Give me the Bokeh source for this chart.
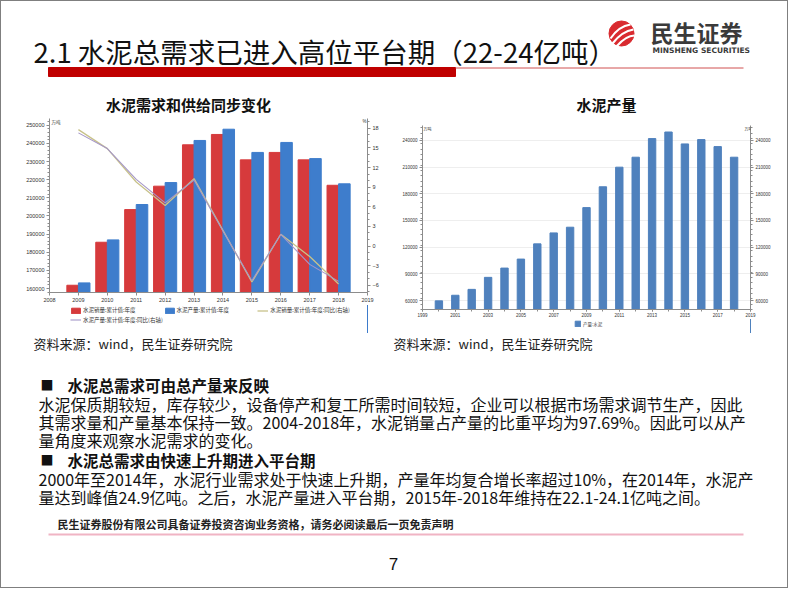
from bokeh.plotting import figure
from bokeh.models import (Range1d, LinearAxis, Legend, LegendItem, Label, FixedTicker,
                          ColumnDataSource)
from bokeh.layouts import column, row
from bokeh.embed import file_html
from bokeh.resources import INLINE
from bokeh.core.properties import value
from bokeh.transform import dodge

CJK = "Noto Sans CJK SC"
LAT = "Liberation Sans"

# ---------------- data: left chart (水泥需求和供给同步变化) ----------------
years_a = [2009, 2010, 2011, 2012, 2013, 2014, 2015, 2016, 2017, 2018]
sales = [161800, 185500, 203500, 216400, 239200, 244900, 230900, 235000, 230900, 216900]
production = [163100, 186800, 206300, 218400, 241600, 247800, 235000, 240500, 231600, 217700]
sales_yoy = [17.8, 14.9, 9.8, 6.2, 10.3, 2.4, -5.5, 1.8, -1.6, -5.8]
production_yoy = [17.3, 14.9, 10.2, 6.6, 10.1, 2.3, -5.3, 1.8, -2.8, -5.4]
left_x_ticks = [2008, 2009, 2010, 2011, 2012, 2013, 2014, 2015, 2016, 2017, 2018, 2019]
left_y_ticks = [160000, 170000, 180000, 190000, 200000, 210000, 220000, 230000, 240000, 250000]
left_pct_ticks = [-6, -3, 0, 3, 6, 9, 12, 15, 18]
left_title = "水泥需求和供给同步变化"
legend_a = ["水泥销量:累计值:年度", "水泥产量:累计值:年度",
            "水泥销量:累计值:年度:同比(右轴)", "水泥产量:累计值:年度:同比(右轴)"]

# ---------------- data: right chart (水泥产量) ----------------
years_b = [2000, 2001, 2002, 2003, 2004, 2005, 2006, 2007, 2008, 2009,
           2010, 2011, 2012, 2013, 2014, 2015, 2016, 2017, 2018]
output = [59700, 66000, 72600, 86100, 96500, 106600, 123700, 136000, 142400, 164400,
          187800, 209800, 221000, 241900, 249300, 235900, 240800, 232900, 221000]
right_x_ticks = [1999, 2001, 2003, 2005, 2007, 2009, 2011, 2013, 2015, 2017, 2019]
right_y_ticks = [60000, 90000, 120000, 150000, 180000, 210000, 240000]
right_title = "水泥产量"
legend_b = "产量:水泥"

# ---------------- slide texts ----------------
slide_title = "2.1 水泥总需求已进入高位平台期（22-24亿吨）"
source_text = "资料来源：wind，民生证券研究院"
bullet1 = "水泥总需求可由总产量来反映"
body1 = ["水泥保质期较短，库存较少，设备停产和复工所需时间较短，企业可以根据市场需求调节生产，因此",
         "其需求量和产量基本保持一致。2004-2018年，水泥销量占产量的比重平均为97.69%。因此可以从产",
         "量角度来观察水泥需求的变化。"]
bullet2 = "水泥总需求由快速上升期进入平台期"
body2 = ["2000年至2014年，水泥行业需求处于快速上升期，产量年均复合增长率超过10%，在2014年，水泥产",
         "量达到峰值24.9亿吨。之后，水泥产量进入平台期，2015年-2018年维持在22.1-24.1亿吨之间。"]
footer = "民生证券股份有限公司具备证券投资咨询业务资格，请务必阅读最后一页免责声明"

RED = "#d63a3c"
BLUE = "#3e7dcc"
BLUE2 = "#4f81bd"
OLIVE = "#c8c28a"
PURPLE = "#a597c8"


def canvas(w, h, x_left, x_right, y_top, y_bot):
    p = figure(width=w, height=h, x_range=Range1d(x_left, x_right),
               y_range=Range1d(y_bot, y_top),
               output_backend="svg", toolbar_location=None, title=None,
               x_axis_type=None, y_axis_type=None, min_border=0)
    p.grid.visible = False
    p.outline_line_color = None
    return p


def txt(p, x, y, s, size, bold=False, color="#111111", align="left", font=CJK):
    p.add_layout(Label(x=x, y=y, text=s, text_font=font, text_font_size=size,
                       text_font_style="bold" if bold else "normal", text_color=color,
                       text_align=align, text_baseline="middle"))


def style_axis(ax, size="5.5px", tick_out=3, standoff=2):
    ax.axis_line_color = "#8c8c8c"
    ax.major_tick_line_color = "#8c8c8c"
    ax.minor_tick_line_color = "#8c8c8c"
    ax.major_tick_in = 0
    ax.major_tick_out = tick_out
    ax.minor_tick_in = 0
    ax.minor_tick_out = 2
    ax.major_label_text_font = LAT
    ax.major_label_text_font_size = size
    ax.major_label_text_color = "#333333"
    ax.major_label_standoff = standoff


leg_style = dict(label_text_font=CJK, label_text_color="#333333", label_standoff=2,
                 padding=0, margin=0, border_line_color=None, background_fill_alpha=0,
                 orientation="horizontal", label_height=7)

# ---------------- header (slide title, logo, chart titles) ----------------
ph = canvas(786, 114, 8, 794, 8, 122)
txt(ph, 40, 57, slide_title, "27.5px", color="#111111")
ph.quad(left=55, right=462, top=74, bottom=83, color="#c00000")
ph.segment(x0=462, y0=74.5, x1=750, y1=74.5, line_color="#d05050", line_width=1)
ph.circle(x=[628], y=[40], radius=12.5, color="#d92a2f")
ph.bezier(x0=[617, 619, 623], y0=[45, 50, 53], x1=[637, 640, 641], y1=[31, 36, 42],
          cx0=[623, 626, 629], cy0=[36, 41, 46], cx1=[630, 633, 636], cy1=[32, 37, 42],
          line_color="white", line_width=2.2)
txt(ph, 657, 38, "民生证券", "23px", bold=True, color="#3a3a3a")
txt(ph, 659, 57, "MINSHENG SECURITIES", "7.5px", bold=True, color="#3a3a3a", font="DejaVu Sans")
txt(ph, 195, 111, left_title, "15px", bold=True, align="center")
txt(ph, 613, 111, right_title, "15px", bold=True, align="center")

# ---------------- left chart ----------------
src_a = ColumnDataSource(dict(year=years_a, sales=sales, production=production,
                              sales_yoy=sales_yoy, production_yoy=production_yoy))
pa = figure(width=387, height=190, x_range=Range1d(2008, 2019), y_range=Range1d(157800, 253700),
            output_backend="svg", toolbar_location=None, title=None,
            min_border_left=48, min_border_right=21, min_border_top=3, min_border_bottom=13)
pa.grid.visible = False
pa.outline_line_color = None
pa.extra_y_ranges = {"pct": Range1d(-7.1, 19.5)}

pa.vbar(x=dodge("year", -0.2), top="sales", bottom=0, width=0.4, source=src_a,
        fill_color=RED, line_color=RED)
pa.vbar(x=dodge("year", 0.2), top="production", bottom=0, width=0.4, source=src_a,
        fill_color=BLUE, line_color=BLUE)
pa.line(x="year", y="sales_yoy", source=src_a, y_range_name="pct",
        line_color=OLIVE, line_width=1.3)
pa.line(x="year", y="production_yoy", source=src_a, y_range_name="pct",
        line_color=PURPLE, line_width=1.1)

pa.xaxis.ticker = FixedTicker(ticks=left_x_ticks, minor_ticks=[])
pa.yaxis.ticker = FixedTicker(ticks=left_y_ticks,
                              minor_ticks=list(range(158000, 254000, 2000)))
pa.yaxis.formatter.use_scientific = False
ax_r = LinearAxis(y_range_name="pct",
                  ticker=FixedTicker(ticks=left_pct_ticks, minor_ticks=list(range(-7, 20))))
pa.add_layout(ax_r, "right")
for ax in [pa.xaxis[0], pa.yaxis[0], ax_r]:
    style_axis(ax)
pa.add_layout(Label(x=2008, y=253700, text="万吨", text_font=CJK, text_font_size="4.5px",
                    text_color="#333333", x_offset=2, text_baseline="top"))
pa.add_layout(Label(x=2019, y=19.5, y_range_name="pct", text="%", text_font=LAT,
                    text_font_size="4.5px", text_color="#333333", x_offset=-5,
                    text_baseline="top"))

# legend strip for the left chart (page y 312..340); its frame is aligned with the chart's
la = canvas(387, 28, 8, 395, 312, 340)
k1 = la.vbar(x=dodge("year", -0.2), top="sales", width=0.4, source=src_a,
             fill_color=RED, line_color=RED)
k2 = la.vbar(x=dodge("year", 0.2), top="production", width=0.4, source=src_a,
             fill_color=BLUE, line_color=BLUE)
k3 = la.line(x="year", y="sales_yoy", source=src_a, line_color=OLIVE, line_width=1.3)
k4 = la.line(x="year", y="production_yoy", source=src_a, line_color=PURPLE, line_width=1.1)
legA = Legend(items=[LegendItem(label=value(legend_a[0]), renderers=[k1]),
                     LegendItem(label=value(legend_a[1]), renderers=[k2]),
                     LegendItem(label=value(legend_a[2]), renderers=[k3])],
              location=(21, 19), spacing=28, glyph_width=11, glyph_height=7,
              label_text_font_size="5.5px", **leg_style)
legB = Legend(items=[LegendItem(label=value(legend_a[3]), renderers=[k4])],
              location=(21, 9.5), glyph_width=11, glyph_height=7,
              label_text_font_size="5.5px", **leg_style)
la.add_layout(legA, "center")
la.add_layout(legB, "center")

# ---------------- right chart ----------------
src_b = ColumnDataSource(dict(year=years_b, output=output))
pb = figure(width=399, height=204, x_range=Range1d(1999, 2019), y_range=Range1d(50000, 256600),
            output_backend="svg", toolbar_location=None, title=None,
            min_border_left=34, min_border_right=37, min_border_top=10, min_border_bottom=9)
pb.outline_line_color = None
pb.xgrid.visible = False
pb.ygrid.grid_line_color = "#eeeeee"
pb.ygrid.ticker = FixedTicker(ticks=right_y_ticks)
pb.vbar(x="year", top="output", bottom=0, width=0.45, source=src_b,
        fill_color=BLUE2, line_color=BLUE2)
pb.xaxis.ticker = FixedTicker(ticks=right_x_ticks, minor_ticks=list(range(1999, 2020)))
pb.yaxis.ticker = FixedTicker(ticks=right_y_ticks,
                              minor_ticks=list(range(50000, 258000, 6000)))
pb.yaxis.formatter.use_scientific = False
ax_r2 = LinearAxis(ticker=FixedTicker(ticks=right_y_ticks,
                                      minor_ticks=list(range(50000, 258000, 6000))))
ax_r2.formatter.use_scientific = False
pb.add_layout(ax_r2, "right")
style_axis(pb.xaxis[0], "4.5px", tick_out=2, standoff=1)
for ax in [pb.yaxis[0], ax_r2]:
    style_axis(ax, "4.5px")
pb.add_layout(Label(x=1999, y=256600, text="万吨", text_font=CJK, text_font_size="4px",
                    text_color="#333333", x_offset=1, text_baseline="top"))
pb.add_layout(Label(x=2019, y=256600, text="万吨", text_font=CJK, text_font_size="4px",
                    text_color="#333333", x_offset=-6, text_baseline="top"))

# legend strip for the right chart (page y 326..340)
lb = canvas(399, 14, 395, 794, 326, 340)
k5 = lb.vbar(x="year", top="output", width=0.45, source=src_b,
             fill_color=BLUE2, line_color=BLUE2)
legC = Legend(items=[LegendItem(label=value(legend_b), renderers=[k5])],
              location=(152, 6), glyph_width=7, glyph_height=7,
              label_text_font_size="4.5px", **leg_style)
lb.add_layout(legC, "center")

# ---------------- bottom text ----------------
pt = canvas(786, 254, 8, 794, 340, 594)
txt(pt, 40, 350, source_text, "13px", color="#222222")
txt(pt, 400, 350, source_text, "13px", color="#222222")
txt(pt, 47, 391, "■", "13px", color="#111111")
txt(pt, 74, 391, bullet1, "15.5px", bold=True)
for i, line in enumerate(body1):
    txt(pt, 45, 410 + 18 * i, line, "16px")
txt(pt, 47, 466, "■", "13px", color="#111111")
txt(pt, 74, 466, bullet2, "15.5px", bold=True)
for i, line in enumerate(body2):
    txt(pt, 45, 485 + 18 * i, line, "16px")
txt(pt, 64, 530, footer, "11px", bold=True, color="#222222")
pt.segment(x0=55, y0=541, x1=750, y1=541, line_color="#f0b4c4", line_width=2)
txt(pt, 400, 570, "7", "17px", align="center", font=LAT)

layout = column(ph, row(column(pa, la), column(pb, lb)), pt,
                styles={"border": "1px solid #7f7f7f"})
open("out.html", "w").write(file_html(layout, INLINE))
